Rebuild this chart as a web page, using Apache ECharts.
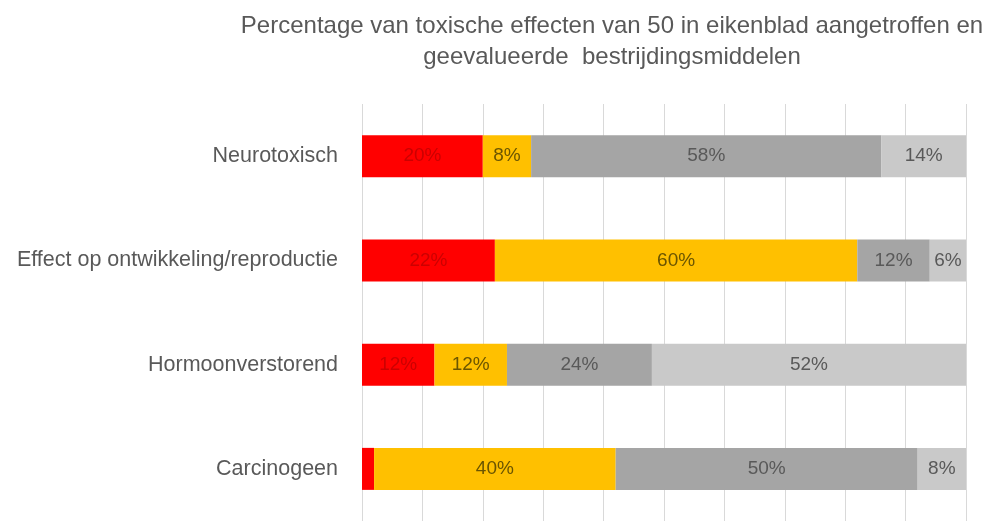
<!DOCTYPE html>
<html><head><meta charset="utf-8">
<script src="https://cdn.jsdelivr.net/npm/echarts@6/dist/echarts.min.js"></script>
<style>html,body{margin:0;padding:0;background:#fff}#c{width:990px;height:521px}</style>
</head><body><div id="c"></div>
<script>
const categories = ['Neurotoxisch', 'Effect op ontwikkeling/reproductie', 'Hormoonverstorend', 'Carcinogeen'];
const seriesRed = [20, 22, 12, 2];
const seriesYellow = [8, 60, 12, 40];
const seriesDark = [58, 12, 24, 50];
const seriesLight = [14, 6, 52, 8];
const titleText = 'Percentage van toxische effecten van 50 in eikenblad aangetroffen en\ngeevalueerde  bestrijdingsmiddelen';

const font = "'Liberation Sans', sans-serif";
function mk(name, data, color, labelColor, minShow) {
  return {
    name, type: 'bar', stack: 'total', data, barWidth: 42,
    itemStyle: { color },
    label: {
      show: true, position: 'inside', color: labelColor, fontSize: 19, fontFamily: font,
      formatter: p => (p.value >= minShow ? p.value + '%' : '')
    },
    emphasis: { disabled: true }
  };
}
const chart = echarts.init(document.getElementById('c'));
chart.setOption({
  animation: false,
  title: {
    text: titleText, left: 607, top: 6, textAlign: 'center',
    textStyle: { fontSize: 24, fontWeight: 'normal', color: '#595959', fontFamily: font, lineHeight: 31 }
  },
  grid: { left: 362, right: 24, top: 104, height: 420, containLabel: false },
  xAxis: {
    type: 'value', min: 0, max: 100, interval: 10,
    axisLabel: { show: false }, axisLine: { show: false }, axisTick: { show: false },
    splitLine: { lineStyle: { color: '#d9d9d9', width: 1 } }
  },
  yAxis: {
    type: 'category', data: categories, inverse: true,
    axisLine: { show: false }, axisTick: { show: false },
    axisLabel: { color: '#595959', fontSize: 21.5, fontFamily: font, margin: 24 }
  },
  series: [
    mk('Rood', seriesRed, '#ff0000', '#cc0000', 5),
    mk('Geel', seriesYellow, '#ffc000', '#6b5500', 0),
    mk('Donkergrijs', seriesDark, '#a5a5a5', '#595959', 0),
    mk('Lichtgrijs', seriesLight, '#c9c9c9', '#595959', 0)
  ]
});
</script></body></html>
